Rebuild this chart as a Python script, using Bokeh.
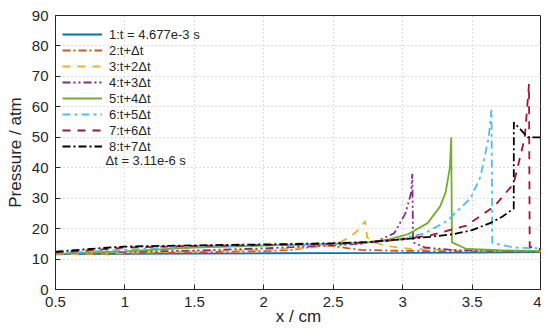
from bokeh.plotting import figure
from bokeh.models import Legend, LegendItem, Label, FixedTicker
from bokeh.embed import file_html
from bokeh.resources import INLINE

# ---- data ----
x1 = [0.5, 1.0, 2.0, 3.0, 3.5, 4.0]
p1 = [11.6, 11.7, 11.9, 12.0, 12.1, 12.3]

x2 = [0.5, 1.0, 1.5, 2.0, 2.2, 2.35, 2.45, 2.5, 2.7, 3.0, 3.5, 4.0]
p2 = [11.6, 11.8, 12.2, 12.6, 13.0, 14.0, 15.0, 14.2, 13.0, 12.7, 12.5, 12.4]

x3 = [0.5, 1.0, 1.5, 2.0, 2.3, 2.5, 2.61, 2.68, 2.73, 2.745, 2.8, 2.88, 3.06, 3.5, 4.0]
p3 = [11.5, 12.0, 12.5, 13.0, 13.6, 14.4, 16.9, 19.5, 22.5, 17.0, 15.5, 14.3, 13.3, 12.8, 12.6]

x4 = [0.5, 1.0, 1.5, 2.0, 2.5, 2.7, 2.82, 2.94, 3.02, 3.06, 3.07, 3.075, 3.16, 3.37, 3.7, 4.0]
p4 = [11.8, 12.3, 12.8, 13.5, 14.5, 15.0, 16.0, 18.5, 25.0, 31.5, 38.0, 15.5, 13.8, 12.9, 12.7, 12.6]

x5 = [0.5, 1.0, 1.5, 2.0, 2.5, 2.75, 2.9, 3.04, 3.18, 3.27, 3.31, 3.34, 3.35, 3.355, 3.46, 3.7, 4.0]
p5 = [11.7, 12.5, 13.8, 14.4, 15.0, 15.5, 16.5, 18.2, 21.8, 27.3, 32.0, 40.0, 50.0, 15.5, 13.3, 12.9, 12.6]

x6 = [0.5, 0.8, 1.2, 1.5, 2.0, 2.5, 2.75, 3.0, 3.16, 3.32, 3.49, 3.56, 3.62, 3.64, 3.645, 3.8, 4.0]
p6 = [11.8, 12.6, 13.5, 14.1, 14.5, 14.9, 15.3, 16.8, 18.5, 22.5, 30.0, 37.0, 50.0, 59.0, 15.3, 13.8, 13.5]

x7 = [0.5, 0.8, 1.0, 1.5, 2.0, 2.5, 2.8, 3.0, 3.2, 3.46, 3.66, 3.8, 3.88, 3.91, 3.915, 4.0]
p7 = [12.2, 13.0, 13.8, 14.3, 14.6, 15.0, 15.6, 16.5, 17.8, 21.0, 27.3, 34.8, 50.0, 67.5, 14.0, 13.2]

x8 = [0.5, 0.8, 1.0, 1.5, 2.0, 2.5, 2.75, 3.0, 3.2, 3.37, 3.5, 3.63, 3.72, 3.8, 3.801, 3.85, 3.9, 4.0]
p8 = [12.4, 13.5, 14.1, 14.5, 14.8, 15.2, 15.6, 16.5, 17.3, 18.2, 19.5, 21.8, 24.0, 26.6, 54.9, 52.5, 50.0, 50.0]

labels = ["1:t = 4.677e-3 s", "2:t+\u0394t", "3:t+2\u0394t", "4:t+3\u0394t",
          "5:t+4\u0394t", "6:t+5\u0394t", "7:t+6\u0394t", "8:t+7\u0394t"]
colors = ["#0072BD", "#D95319", "#EDB120", "#7E2F8E",
          "#77AC30", "#4DBEEE", "#A2142F", "#000000"]
dashes = ["solid", "8 3 2 3", "8 7", "8 3 2 3 2 3",
          "solid", "8 4 3 4", "8 7", "8 3 2 3"]
dt_note = "\u0394t = 3.11e-6 s"

x_ticks = [0.5, 1, 1.5, 2, 2.5, 3, 3.5, 4]
y_ticks = [0, 10, 20, 30, 40, 50, 60, 70, 80, 90]

FONT = "Liberation Sans"
TXT = "#262626"

p = figure(width=541, height=328, output_backend="svg", toolbar_location=None,
           x_range=(0.5, 4.0), y_range=(0, 90),
           min_border_left=55, min_border_right=0, min_border_top=15, min_border_bottom=38)
p.background_fill_color = "white"
p.outline_line_color = TXT
p.outline_line_width = 1

for ax in (p.xaxis[0], p.yaxis[0]):
    ax.axis_line_color = TXT
    ax.major_tick_line_color = TXT
    ax.major_tick_in = 5
    ax.major_tick_out = 0
    ax.minor_tick_line_color = None
    ax.major_label_text_font = FONT
    ax.major_label_text_font_size = "15px"
    ax.major_label_text_color = TXT
    ax.axis_label_text_font = FONT
    ax.axis_label_text_font_size = "17px"
    ax.axis_label_text_font_style = "normal"
    ax.axis_label_text_color = TXT

p.xaxis[0].ticker = FixedTicker(ticks=x_ticks)
p.yaxis[0].ticker = FixedTicker(ticks=y_ticks)
p.xaxis[0].axis_label = "x / cm"
p.yaxis[0].axis_label = "Pressure / atm"
p.xaxis[0].major_label_standoff = 7
p.yaxis[0].major_label_standoff = 7
p.xaxis[0].axis_label_standoff = -3
p.yaxis[0].axis_label_standoff = 4

for g in (p.xgrid[0], p.ygrid[0]):
    g.grid_line_color = "#bdbdbd"
    g.grid_line_dash = "1 3"
    g.grid_line_width = 1

xs = [x1, x2, x3, x4, x5, x6, x7, x8]
ps = [p1, p2, p3, p4, p5, p6, p7, p8]
items = []
for xx, pp, lab, c, d in zip(xs, ps, labels, colors, dashes):
    r = p.line(xx, pp, line_color=c, line_width=1.8, line_dash=d)
    items.append(LegendItem(label=lab, renderers=[r]))

legend = Legend(items=items, location=(7, 135), padding=6, margin=0, spacing=0,
                label_text_font=FONT, label_text_font_size="13px", label_text_color=TXT,
                label_height=16, glyph_height=16, glyph_width=40, label_standoff=7,
                border_line_color=None, background_fill_alpha=0)
p.add_layout(legend, "center")

p.add_layout(Label(x=0.86, y=42.5, text=dt_note, text_font=FONT, text_font_size="13px",
                   text_color=TXT, text_baseline="middle"))

open("out.html", "w").write(file_html(p, INLINE))
